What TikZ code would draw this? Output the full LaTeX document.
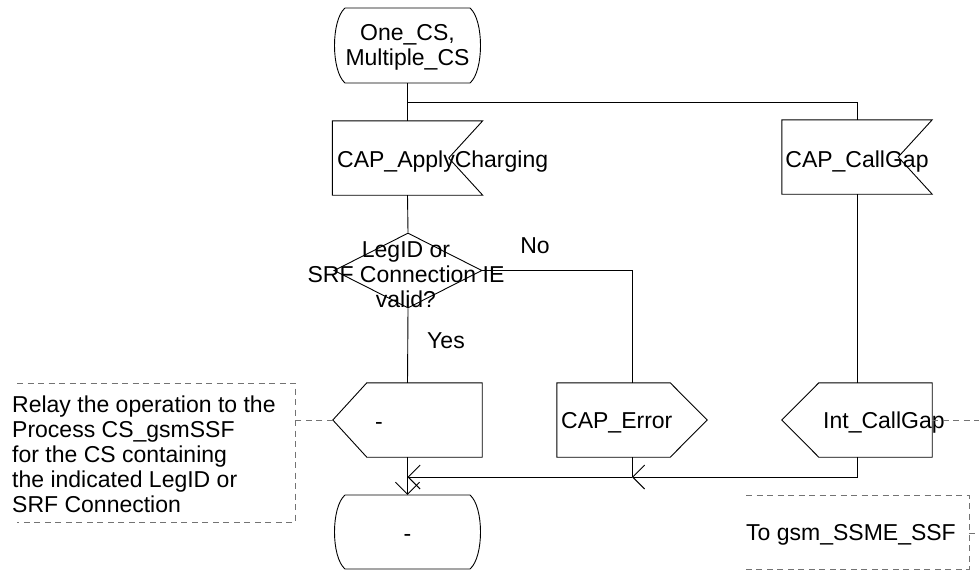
\documentclass[tikz,border=0pt]{standalone}
\usepackage{fontspec}
\setmainfont{Liberation Sans}
\usetikzlibrary{shapes.geometric,arrows.meta,calc}
\tikzset{
  ln/.style={line width=0.9pt, black},
  cmtline/.style={line width=0.9pt, gray!90!black, dash pattern=on 6pt off 4.5pt},
  box/.style={draw=none, inner sep=0pt, minimum width=150pt, minimum height=74pt},
  txt/.style={inner sep=0pt, font=\fontsize{23}{25}\selectfont},
  arr/.style={-{Straight Barb[length=12pt,width=24pt,line width=0.9pt]}},
}
\begin{document}
\begin{tikzpicture}[x=1pt,y=-1pt]
\useasboundingbox (0,0) rectangle (979,571);

% start state
\node[box, minimum width=149pt, minimum height=75pt] (st1) at (407.5,45.5) {};
\draw[ln] (345,8) -- (470,8) .. controls (484,20) and (484,71) .. (470,83) -- (345,83) .. controls (331,71) and (331,20) .. (345,8);
\node[txt, align=center] (st1t) at (407.5,47) {One\_CS,\\Multiple\_CS};

% inputs
\node[box] (apply) at (407.5,158) {};
\draw[ln] (apply.north west) -- (apply.north east) -- ([xshift=-34pt]apply.east) -- (apply.south east) -- (apply.south west) -- cycle;
\node[txt, anchor=base west] (applyt) at (337,167) {CAP\_ApplyCharging};

\node[box] (callgap) at (857,157) {};
\draw[ln] (callgap.north west) -- (callgap.north east) -- ([xshift=-34pt]callgap.east) -- (callgap.south east) -- (callgap.south west) -- cycle;
\node[txt, anchor=base] (callgapt) at (857,167) {CAP\_CallGap};

% decision
\node[diamond, draw, ln, inner sep=0pt, minimum width=148pt, minimum height=75pt] (dec) at (408,270.5) {};
\node[txt, align=center] (dect) at (406,275) {LegID or\\SRF Connection IE\\valid?};
\node[txt, anchor=base] (no) at (535,253) {No};
\node[txt, anchor=base] (yes) at (446,348) {Yes};

% outputs
\node[box, minimum width=149pt] (out) at (407.5,420) {};
\draw[ln] (out.west) -- ([xshift=34pt]out.north west) -- (out.north east) -- (out.south east) -- ([xshift=34pt]out.south west) -- cycle;
\node[txt, anchor=base] (outt) at (379,429) {-};

\node[box] (err) at (632,420) {};
\draw[ln] (err.north west) -- ([xshift=-37pt]err.north east) -- (err.east) -- ([xshift=-37pt]err.south east) -- (err.south west) -- cycle;
\node[txt, anchor=base west] (errt) at (561,428) {CAP\_Error};

\node[box] (icg) at (857,420) {};
\draw[ln] (icg.west) -- ([xshift=37pt]icg.north west) -- (icg.north east) -- (icg.south east) -- ([xshift=37pt]icg.south west) -- cycle;
\node[txt, anchor=base west] (icgt) at (823,428) {Int\_CallGap};

% end state
\node[box, minimum width=149pt, minimum height=74pt] (st2) at (407.5,532) {};
\draw[ln] (345,495) -- (470,495) .. controls (484,507) and (484,557) .. (470,569) -- (345,569) .. controls (331,557) and (331,507) .. (345,495);
\node[txt, anchor=base] (st2t) at (407.5,541) {-};

% flow lines
\coordinate (b1) at (407.5,102);
\coordinate (j1) at (407.5,477);
\coordinate (j2) at (632,477);
\draw[ln] (st1.south) -- (apply.north);
\draw[ln] (b1) -| (callgap.north);
\draw[ln] (apply.south) -- (dec.north);
\draw[ln] (dec.east) -| (err.north);
\draw[ln] (dec.south) -- (out.north);
\draw[ln] (callgap.south) -- (icg.north);
\draw[ln, arr] (icg.south) |- (j2);
\draw[ln] (err.south) -- (j2);
\draw[ln, arr] (j2) -- (j1);
\draw[ln, arr] (out.south) -- (st2.north);

% comments
\coordinate (c1) at (295,420);
\draw[cmtline] (out.west) -- (c1);
\draw[cmtline] (17,383) -- (295,383) -- (295,522) -- (17,522);
\node[txt, anchor=west, align=left] (c1t) at (12,454) {Relay the operation to the\\Process CS\_gsmSSF\\for the CS containing\\the indicated LegID or\\SRF Connection};

\coordinate (e1) at (979,420);
\coordinate (e2) at (979,533);
\coordinate (c2) at (969,533);
\draw[cmtline] (icg.east) -- (e1);
\draw[cmtline] (746,495) -- (969,495) -- (969,569) -- (746,569);
\draw[cmtline] (c2) -- (e2);
\node[txt, anchor=base] (c2t) at (851,540) {To gsm\_SSME\_SSF};
\end{tikzpicture}
\end{document}
